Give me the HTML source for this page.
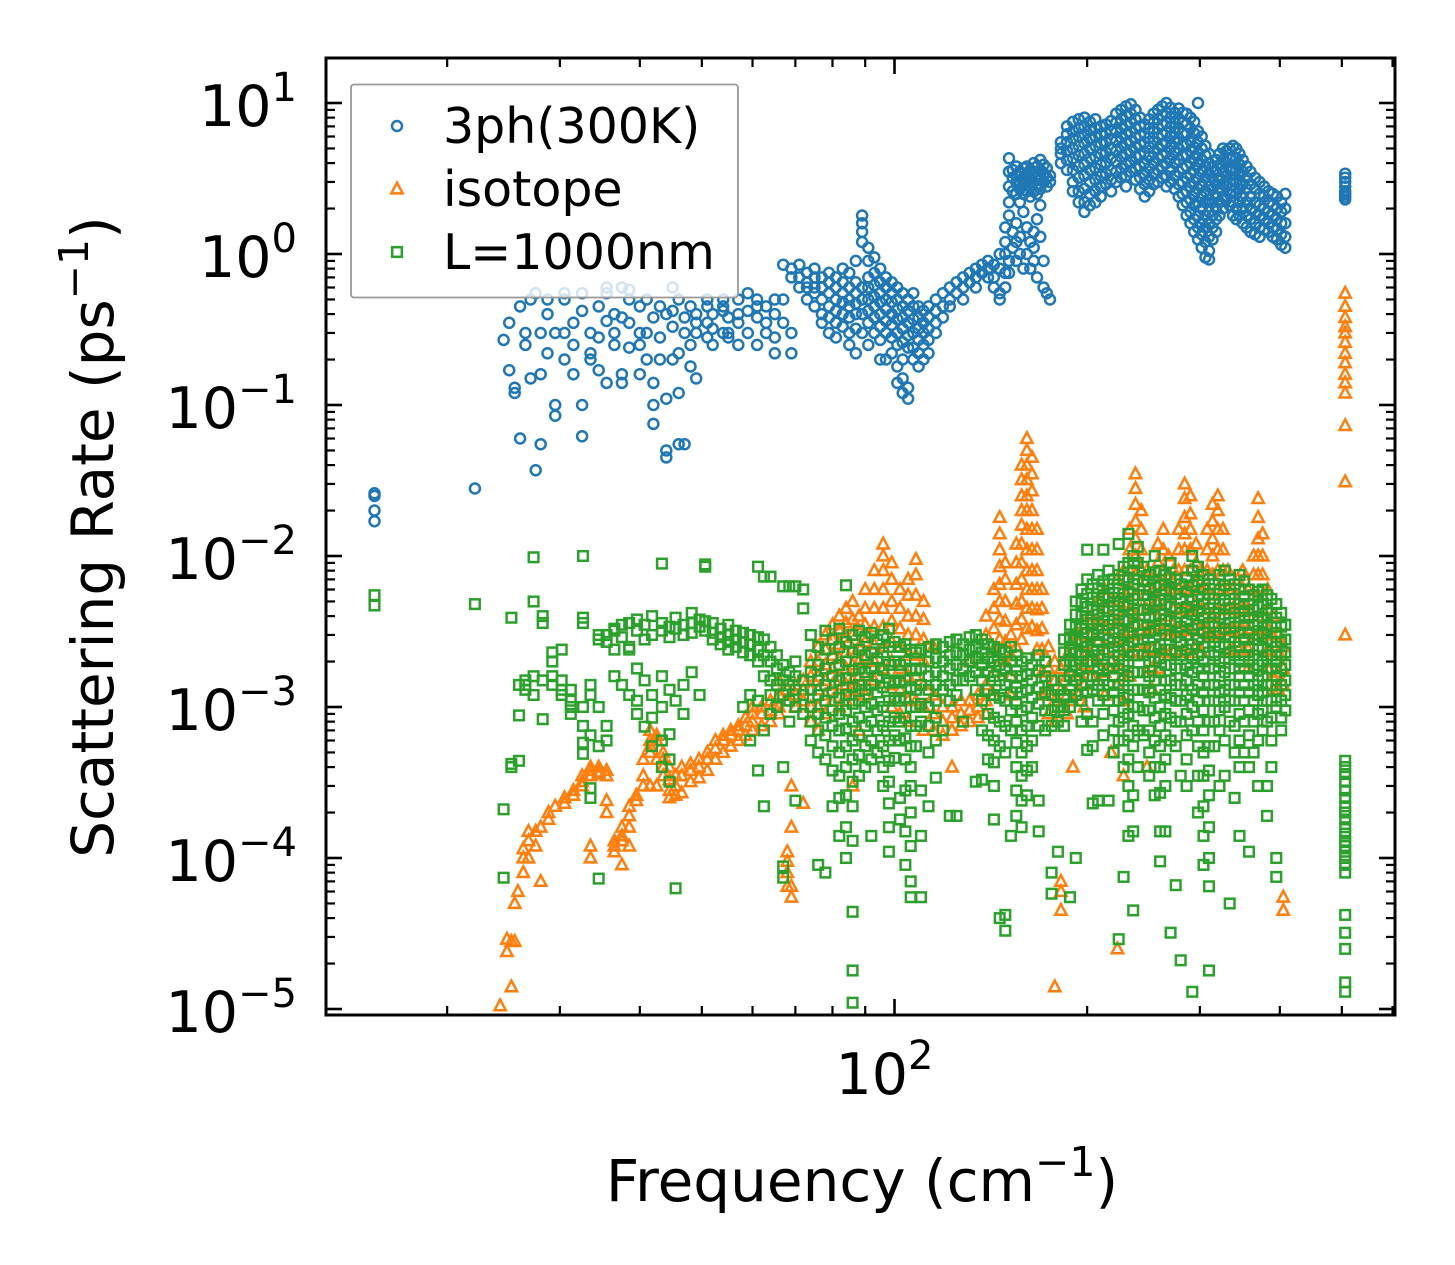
<!DOCTYPE html>
<html><head><meta charset="utf-8"><style>
html,body{margin:0;padding:0;background:#fff;}
svg{display:block;font-family:"DejaVu Sans","Liberation Sans",sans-serif;}
</style></head><body>
<svg id="chart" width="1455" height="1265" viewBox="0 0 1455 1265" xmlns="http://www.w3.org/2000/svg">
<rect x="0" y="0" width="1455" height="1265" fill="#fff"/>
<g id="marks"></g>
<g id="axes"></g>
</svg>
<script>
// ---- data: [frequency (cm^-1), [scattering rates (ps^-1)]] ----
const seriesNames = ["3ph(300K)", "isotope", "L=1000nm"];
const xTickLabels = ["10", "2"];
const yTickExps = ["1", "0", "−1", "−2", "−3", "−4", "−5"];

const blueCols = [
[15.4,[0.026,0.025,0.020,0.017]],[22.1,[0.028]],
[24.5,[0.27]],[25,[0.17,0.35]],[25.5,[0.13,0.12]],[26,[0.06,0.45]],[26.5,[0.25,0.3]],[27,[0.5,0.15]],[27.5,[0.037,0.55]],[28,[0.16,0.3,0.055]],[28.7,[0.4,0.22,0.5]],[29.5,[0.1,0.085,0.3]],[30.5,[0.55,0.2,0.5,0.3]],[31.5,[0.35,0.16,0.25]],[32.5,[0.42,0.1,0.062,0.55]],[33.5,[0.3,0.22,0.2]],[34.5,[0.45,0.17,0.28]],[35.5,[0.55,0.36,0.14,0.6]],[36.5,[0.25,0.4,0.3]],[37.5,[0.6,0.16,0.14,0.38]],[38.5,[0.24,0.5,0.35,0.58]],[40,[0.25,0.45,0.16,0.3]],[41,[0.2,0.3,0.5]],[42,[0.1,0.075,0.38,0.14]],[43,[0.28,0.45,0.2]],[44,[0.045,0.05,0.11,0.4]],[45,[0.2,0.33,0.42,0.6]],[46,[0.055,0.22,0.12,0.5]],[47,[0.3,0.38,0.055]],[48,[0.45,0.18,0.25]],[49,[0.4,0.3,0.35,0.15]],[51,[0.35,0.45,0.5,0.28]],[52,[0.25,0.4,0.32]],[54,[0.45,0.3,0.5,0.42]],[55,[0.28,0.38,0.3]],[57,[0.4,0.5,0.25,0.35]],[59,[0.42,0.55,0.3]],[61,[0.45,0.38,0.25,0.5]],[63,[0.35,0.3,0.45]],[65,[0.4,0.28,0.22,0.5]],[67,[0.85,0.5,0.35]],[69,[0.8,0.7,0.3,0.22]],[71,[0.85,0.7,0.6]],
[73,[0.75,0.6,0.5,0.65]],[75,[0.7,0.55,0.45,0.6,0.8]],[77,[0.6,0.5,0.4,0.7,0.35]],[79,[0.65,0.55,0.45,0.38,0.3,0.75]],[81,[0.7,0.6,0.5,0.42,0.35,0.28]],[83,[0.65,0.55,0.48,0.4,0.33,0.8]],[85,[0.75,0.6,0.5,0.45,0.38,0.3,0.25]],[87,[0.9,0.65,0.55,0.47,0.4,0.32,0.22]],[89,[1.8,1.6,1.4,1.2,0.6,0.5,0.4,0.3]],[91,[1.1,0.9,0.7,0.6,0.5,0.42,0.35,0.25]],[93,[0.95,0.75,0.62,0.52,0.45,0.38,0.3]],[95,[0.8,0.65,0.55,0.48,0.4,0.33,0.27,0.2]],[97,[0.7,0.6,0.5,0.43,0.36,0.3,0.2]],[99,[0.65,0.55,0.48,0.4,0.34,0.28,0.22]],[101,[0.6,0.5,0.43,0.37,0.3,0.25,0.18,0.14]],[103,[0.55,0.45,0.38,0.32,0.26,0.2,0.15,0.12]],[105,[0.5,0.42,0.35,0.29,0.24,0.11,0.13]],[107,[0.55,0.45,0.37,0.3,0.24,0.2]],[109,[0.45,0.38,0.32,0.27,0.22,0.18]],[111,[0.42,0.35,0.3,0.25,0.2]],[113,[0.45,0.38,0.32,0.27,0.22]],[116,[0.5,0.42,0.35,0.3]],[119,[0.55,0.45,0.38]],[122,[0.6,0.5,0.45]],[125,[0.65,0.55]],[128,[0.7,0.6,0.5]],[131,[0.75,0.65]],[134,[0.8,0.7,0.6]],[137,[0.85,0.75]],[140,[0.9,0.8,0.7]],[143,[0.85,0.7,0.6]],[146,[1.0,0.8,0.55,0.5]],
[149,[1.5,1.2,1.0,0.75,0.6]],[151,[4.3,3.5,2.8,2.2,1.8,0.9,0.75]],[153,[3.6,3.2,2.6,1.4,1.1]],[155,[3.8,3.3,3.0,2.5,1.6,1.2,0.9]],[157,[3.5,3.0,2.7,2.2,1.3,1.0]],[159,[3.7,3.2,2.9,2.5,1.9,0.8]],[161,[3.8,3.4,3.0,2.6,1.5,1.0]],[163,[3.6,3.2,2.8,2.4,1.2,0.8]],[165,[4.0,3.5,3.0,2.6,1.4,1.1,0.9]],[167,[3.8,3.3,2.9,2.5,1.7,0.7]],[169,[4.2,3.6,3.1,2.7,2.1,1.3]],[171,[3.9,3.4,3.0,0.9,0.6]],[173,[3.7,3.2,2.8,0.55]],[175,[3.3,3.0,0.5]],
[182,[5.5,5.0,4.6,4.0]],[186,[7.0,6.2,5.5,4.8,4.2,3.6]],[190,[7.5,6.5,5.8,5.0,4.3,3.6,3.0,2.6]],[194,[7.8,6.8,6.0,5.2,4.5,3.8,3.2,2.6,2.2]],[198,[8.0,7.0,6.2,5.4,4.6,3.9,3.3,2.7,2.2,1.9]],[202,[7.5,6.6,5.8,5.0,4.3,3.6,3.0,2.5,2.1]],[206,[7.8,6.8,6.0,5.2,4.4,3.7,3.1,2.6,2.2]],[210,[7.0,6.2,5.4,4.6,3.9,3.3,2.8,2.4]],[214,[7.2,6.3,5.5,4.7,4.0,3.4,2.9]],[218,[7.6,6.6,5.8,5.0,4.3,3.6,3.1,2.6]],[222,[8.5,7.4,6.4,5.6,4.8,4.1,3.5,3.0]],[226,[9.0,7.8,6.8,5.9,5.1,4.4,3.7,3.2]],[230,[9.5,8.2,7.1,6.2,5.4,4.6,3.9,3.3,2.8]],[234,[9.8,8.5,7.4,6.4,5.6,4.8,4.1,3.5]],[238,[9.0,7.8,6.8,5.9,5.1,4.4,3.7,3.1]],[242,[8.0,7.0,6.1,5.3,4.5,3.8,3.2,2.7]],[246,[7.2,6.3,5.5,4.7,4.0,3.4,2.9,2.4]],[250,[7.8,6.8,5.9,5.1,4.4,3.7,3.1,2.6]],[254,[8.5,7.4,6.4,5.5,4.7,4.0,3.4,2.9]],[258,[9.0,7.8,6.8,5.9,5.0,4.3,3.6,3.0]],[262,[9.5,8.3,7.2,6.2,5.3,4.5,3.8,3.2]],[266,[10,8.6,7.4,6.4,5.5,4.7,4.0,3.3,2.8]],[270,[9.3,8.0,6.9,6.0,5.1,4.3,3.6,3.0]],[274,[8.6,7.4,6.4,5.5,4.7,4.0,3.3,2.7]],[278,[9.2,7.9,6.8,5.8,5.0,4.2,3.5,2.9,2.4]],[282,[8.6,7.4,6.3,5.3,4.5,3.7,3.0,2.5,2.1]],[286,[8.5,7.2,6.2,5.3,4.5,3.8,3.2,2.6,2.2,1.8]],[290,[8.0,6.8,5.6,4.8,4.0,3.4,2.8,2.3,1.9,1.6]],[294,[7.5,6.3,5.1,4.3,3.6,3.0,2.5,2.1,1.7,1.4]],[298,[10,6.5,5.5,4.6,3.9,3.2,2.7,2.2,1.8,1.5,1.25]],[302,[6.0,5.0,4.2,3.5,2.9,2.4,2.0,1.6,1.35,1.1]],[306,[5.2,4.5,3.8,3.2,2.6,2.2,1.8,1.5,1.2,0.95]],[310,[4.6,4.0,3.4,2.8,2.3,1.9,1.6,1.3,1.05,0.92]],[314,[3.8,3.2,2.7,2.2,1.8,1.5,1.25]],[318,[4.2,3.5,2.9,2.4,2.0,1.7,1.4]],[322,[4.6,3.9,3.2,2.7,2.2,1.8]],[326,[5.0,4.2,3.5,2.9,2.4,2.0]],[330,[4.8,4.0,3.3,2.8,2.3]],[334,[5.0,4.3,3.6,3.0,2.5,2.1]],[338,[5.2,4.4,3.7,3.1,2.6,2.2,1.8]],[342,[5.0,4.3,3.6,3.0,2.5,2.0,1.7]],[346,[4.6,3.9,3.3,2.7,2.2,1.8]],[350,[4.2,3.5,2.9,2.4,2.0,1.6]],[355,[3.8,3.2,2.7,2.2,1.8,1.5]],[360,[3.5,2.9,2.4,2.0,1.7,1.4]],[366,[3.2,2.7,2.2,1.9,1.6,1.35]],[372,[3.0,2.5,2.1,1.8,1.5,1.3]],[378,[2.8,2.4,2.0,1.7,1.45]],[384,[2.6,2.2,1.9,1.6,1.4]],[390,[2.5,2.1,1.8,1.5,1.3]],[396,[2.4,2.0,1.7,1.45,1.25]],[402,[2.2,1.9,1.6,1.35,1.15]],[408,[2.5,2.0,1.6,1.3,1.1]],
[506,[3.4,3.2,3.0,2.8,2.6,2.5,2.4,2.3]]
];

const orangeCols = [
[24.2,[1.05e-5]],[24.8,[2.4e-5,2.9e-5]],[25.2,[1.4e-5,2.8e-5]],[25.5,[5e-5,2.8e-5]],[25.8,[6e-5]],[26.3,[1.0e-4,1.15e-4,8e-5]],[26.8,[1.3e-4,1.0e-4,1.5e-4]],[27.5,[1.5e-4,1.2e-4]],[28,[1.6e-4,7e-5]],[28.8,[1.8e-4,2e-4]],[29.5,[2.2e-4]],[30.5,[2.3e-4,2.5e-4]],[31.5,[2.8e-4,2.6e-4]],[32.5,[3.0e-4,3.2e-4,3.5e-4]],[33.5,[3.8e-4,4.0e-4,3.5e-4,1.2e-4,1.0e-4]],[34.5,[4.0e-4,3.7e-4,3.6e-4]],[35.5,[3.8e-4,3.5e-4,2.4e-4,2.0e-4]],[36.5,[1.2e-4,1.3e-4,1.1e-4]],[37.5,[9e-5,1.4e-4,1.3e-4,1.6e-4]],[38.5,[1.6e-4,1.9e-4,2.2e-4,1.2e-4]],[39.5,[2.4e-4,2.6e-4]],[40.5,[3.0e-4,3.5e-4,4.5e-4]],[41.5,[5e-4,5.5e-4,6e-4,7e-4,3e-4]],[42.5,[6.5e-4,6e-4,4.5e-4,3e-4]],[43.5,[5e-4,4.5e-4,4e-4,3.5e-4]],[44.5,[4e-4,3.3e-4,2.8e-4,2.5e-4]],[45.5,[3.5e-4,2.6e-4,3.0e-4]],[46.5,[4e-4,3.5e-4,2.7e-4]],[48,[4.2e-4,3.8e-4,3.2e-4]],[49.5,[4.5e-4,4e-4,3.4e-4]],[51,[5e-4,4.5e-4,3.8e-4]],[52.5,[6e-4,5.3e-4,4.5e-4]],[54,[6.5e-4,6e-4,5e-4]],[55.5,[7e-4,6.5e-4,5.5e-4]],[57,[7.5e-4,7e-4,6e-4]],[58.5,[8.5e-4,7.5e-4,6.5e-4]],[60,[9e-4,8e-4,7e-4,1.0e-3]],[62,[1.0e-3,9e-4,7.5e-4]],[64,[1.1e-3,9.5e-4,8e-4]],[66,[1.2e-3,1.0e-3,9e-4,1.5e-3]],[68,[1.3e-3,1.1e-3,9.5e-5,8e-5,1.1e-4,6.5e-5]],[69,[5.5e-5,6.5e-5,1.6e-4,3.0e-4]],[70,[1.4e-3,1.2e-3,1.0e-3]],[72,[1.5e-3,1.3e-3,1.1e-3,2.3e-4]],
[74,[2.0e-3,1.6e-3,1.3e-3,1.0e-3,8e-4]],[76,[2.5e-3,2.0e-3,1.6e-3,1.3e-3,1.0e-3,7e-4]],[78,[3.0e-3,2.4e-3,1.9e-3,1.5e-3,1.2e-3,9e-4]],[80,[3.5e-3,2.8e-3,2.2e-3,1.8e-3,1.4e-3,1.1e-3]],[82,[4.0e-3,3.2e-3,2.6e-3,2.1e-3,1.6e-3,1.3e-3,1.0e-3]],[84,[4.5e-3,3.6e-3,2.9e-3,2.3e-3,1.8e-3,1.4e-3,1.1e-3]],[86,[5e-3,3.8e-3,3.0e-3,2.4e-3,1.9e-3,1.5e-3,1.2e-3,3e-4]],[88,[4e-3,3.2e-3,2.5e-3,2.0e-3,1.6e-3,1.3e-3,7e-4]],[90,[6e-3,4.5e-3,3.5e-3,2.7e-3,2.1e-3,1.6e-3,1.2e-3]],
[93,[8e-3,6e-3,4.5e-3,3.4e-3,2.6e-3,2.0e-3,1.5e-3]],[96,[1.2e-2,1.0e-2,8e-3,6e-3,4.5e-3,3.4e-3,2.5e-3,1.8e-3]],[99,[9e-3,7e-3,5e-3,3.7e-3,2.7e-3,2.0e-3,1.4e-3,1.0e-3]],[102,[6e-3,4.5e-3,3.3e-3,2.5e-3,1.8e-3,1.3e-3,9e-4]],[105,[7e-3,5.5e-3,4e-3,3e-3,2.2e-3,1.6e-3,1.1e-3,8e-4]],[108,[9.5e-3,7.5e-3,5.5e-3,4e-3,3e-3,2.2e-3,1.6e-3,1.1e-3]],[111,[5e-3,3.8e-3,2.8e-3,2e-3,1.4e-3,1.0e-3,7e-4]],
[115,[1.2e-3,9e-4,7e-4,2.5e-3]],[119,[1.0e-3,8e-4,6.5e-4]],[123,[1.0e-3,8.5e-4,7e-4,4e-4]],[127,[1.1e-3,9e-4,7.5e-4]],[131,[1.1e-3,9.5e-4,8e-4,2e-3]],[135,[1.2e-3,1.0e-3,8.5e-4]],[139,[1.4e-3,1.1e-3,9e-4,3e-3,4e-3]],[143,[6e-3,4.5e-3,3.3e-3,2.4e-3,1.7e-3,1.2e-3]],[146,[1.8e-2,1.4e-2,1.1e-2,8.5e-3,6.5e-3,5e-3,3.8e-3,2.8e-3,2e-3]],[149,[9e-3,7e-3,5e-3,3.7e-3,2.7e-3,2e-3]],
[152,[3e-3,2.2e-3,1.6e-3,1.2e-3]],[155,[1.2e-2,9e-3,6.5e-3,4.8e-3,3.5e-3,2.5e-3]],[158,[4e-2,3.2e-2,2.5e-2,2e-2,1.6e-2,1.2e-2,9e-3,7e-3,5e-3,3.8e-3,2.8e-3]],[161,[6e-2,5e-2,4e-2,3.2e-2,2.5e-2,2e-2,1.5e-2,1.1e-2,8e-3,6e-3,4.5e-3,3.3e-3]],[164,[4.5e-2,3.5e-2,2.7e-2,2e-2,1.5e-2,1.1e-2,8e-3,6e-3,4.5e-3,3.4e-3]],[167,[1.5e-2,1.1e-2,8e-3,6e-3,4.4e-3,3.2e-3,2.4e-3]],[170,[6e-3,4.5e-3,3.3e-3,2.4e-3,1.7e-3,1.2e-3]],
[174,[2.5e-3,1.8e-3,1.3e-3,9e-4]],[178,[2e-3,1.5e-3,1.1e-3,8e-4,1.4e-5]],[182,[1.8e-3,1.3e-3,1e-3,7e-5,6e-5,4.5e-5]],[186,[2.2e-3,1.6e-3,1.2e-3,9e-4]],[190,[2.6e-3,2e-3,1.5e-3,1.1e-3,4e-4]],[194,[3e-3,2.3e-3,1.7e-3,1.2e-3]],[198,[3.5e-3,2.6e-3,1.9e-3,1.4e-3,1.0e-3]],
[203,[4e-3,3e-3,2.2e-3,1.6e-3]],[208,[5e-3,3.7e-3,2.7e-3,2e-3,1.5e-3]],[213,[6e-3,4.5e-3,3.3e-3,2.4e-3,1.7e-3,1.2e-3]],[218,[5e-3,3.8e-3,2.8e-3,2e-3,5e-4]],[223,[7e-3,5e-3,3.7e-3,2.7e-3,1.9e-3,1.4e-3,2.5e-5]],[228,[8e-3,6e-3,4.4e-3,3.2e-3,2.3e-3,1.6e-3,1.1e-3,3.5e-4]],[233,[1.5e-2,1.1e-2,8e-3,6e-3,4.4e-3,3.2e-3,2.3e-3,1.6e-3]],[238,[3.5e-2,2.8e-2,2.2e-2,1.7e-2,1.3e-2,1e-2,7.5e-3,5.5e-3,4e-3,3e-3,2.2e-3]],[243,[2e-2,1.5e-2,1.1e-2,8e-3,6e-3,4.4e-3,3.2e-3,2.3e-3]],[248,[8e-3,6e-3,4.4e-3,3.2e-3,2.3e-3,1.7e-3,4e-4]],[253,[6e-3,4.5e-3,3.3e-3,2.4e-3,1.8e-3,1.3e-3]],[258,[1.2e-2,9e-3,6.5e-3,4.8e-3,3.5e-3,2.5e-3,1.8e-3]],[263,[1.5e-2,1.1e-2,8e-3,6e-3,4.4e-3,3.2e-3,2.3e-3]],[268,[1e-2,7.5e-3,5.5e-3,4e-3,3e-3,2.2e-3]],[273,[8e-3,6e-3,4.4e-3,3.2e-3,2.3e-3]],[278,[1.5e-2,1.1e-2,8e-3,6e-3,4.4e-3,3.2e-3,2.3e-3]],[284,[3e-2,2.4e-2,1.8e-2,1.4e-2,1.1e-2,8e-3,6e-3,4.4e-3,3.2e-3,2.3e-3]],[290,[2.5e-2,1.9e-2,1.5e-2,1.1e-2,8e-3,6e-3,4.4e-3,3.2e-3]],[296,[1.2e-2,9e-3,6.5e-3,4.8e-3,3.5e-3,2.5e-3]],[302,[8e-3,6e-3,4.4e-3,3.2e-3,2.3e-3]],[308,[1.5e-2,1.1e-2,8e-3,6e-3,4.4e-3,3.2e-3]],[314,[2.2e-2,1.7e-2,1.3e-2,1e-2,7.5e-3,5.5e-3,4e-3,3e-3]],[320,[2.5e-2,2e-2,1.5e-2,1.1e-2,8e-3,6e-3,4.4e-3,3.2e-3]],[326,[1.5e-2,1.1e-2,8e-3,6e-3,4.4e-3,3.2e-3]],[332,[8e-3,6e-3,4.4e-3,3.2e-3,2.3e-3]],[338,[6e-3,4.5e-3,3.3e-3,2.4e-3]],[344,[7e-3,5e-3,3.7e-3,2.7e-3]],[350,[8e-3,6e-3,4.4e-3,3.2e-3,2.3e-3]],[357,[6e-3,4.5e-3,3.3e-3,2.4e-3,1.8e-3]],[364,[1e-2,7.5e-3,5.5e-3,4e-3,3e-3]],[370,[2.4e-2,1.8e-2,1.3e-2,1e-2,7.5e-3,5.5e-3,4e-3,3e-3]],[376,[1.4e-2,1e-2,7.5e-3,5.5e-3,4e-3,3e-3]],[383,[6e-3,4.5e-3,3.3e-3,2.4e-3,1.8e-3]],[390,[4e-3,3e-3,2.2e-3,1.6e-3,1.3e-3]],[398,[3e-3,2.3e-3,1.7e-3,1.3e-3]],[405,[2.5e-3,1.8e-3,1.4e-3,5.5e-5,4.5e-5]],
[506,[0.55,0.45,0.38,0.33,0.3,0.26,0.22,0.19,0.16,0.14,0.12,0.073,0.031,3e-3]]
];

const greenCols = [
[15.4,[5.5e-3,4.7e-3]],[22.1,[4.8e-3]],
[24.5,[7.4e-5,2.1e-4]],[25.2,[3.9e-3,4.2e-4,4.0e-4]],[25.9,[8.8e-4,1.4e-3,4.4e-4]],[26.5,[1.4e-3,1.5e-3,1.3e-3]],[27.3,[9.8e-3,5.0e-3,1.6e-3,1.2e-3]],[28.2,[4.0e-3,3.6e-3,1.5e-3,8.3e-4]],[29.2,[1.4e-3,2.3e-3,2.0e-3,1.6e-3]],[30.2,[1.5e-3,2.4e-3,1.3e-3,1.2e-3]],[31.2,[1.3e-3,1.1e-3,9e-4,1.0e-3]],[32.6,[1e-2,3.9e-3,3.6e-3,1.0e-3,7.5e-4,4.9e-4,5.8e-4]],[33.5,[1.4e-3,1.2e-3,6.5e-4,2.9e-4,2.5e-4]],[34.5,[2.8e-3,3.0e-3,7.3e-5,5.5e-4,1.0e-3]],[35.5,[3.0e-3,2.7e-3,7.5e-4,6e-4]],[36.5,[3.3e-3,2.4e-3,3.2e-3,1.6e-3]],[37.5,[3.5e-3,2.9e-3,1.4e-3]],[38.5,[3.6e-3,2.5e-3,1.2e-3,2.4e-3]],[39.6,[3.8e-3,3.2e-3,1.8e-3,1.1e-3,9e-4]],[40.7,[3.5e-3,2.8e-3,1.5e-3,7.4e-4]],[41.8,[4.0e-3,3.0e-3,1.2e-3,8.5e-4,5.5e-4]],[43.3,[8.9e-3,3.6e-3,3.2e-3,1.6e-3,1.0e-3,6e-4,4e-4]],[44.5,[3.4e-3,2.9e-3,1.3e-3,6.6e-4,4.5e-4,3.2e-4]],[45.5,[3.9e-3,3.3e-3,1.1e-3,6.3e-5]],[46.8,[3.5e-3,3.0e-3,1.4e-3,9e-4]],[48.2,[4.2e-3,3.6e-3,3.1e-3,1.7e-3]],[49.6,[3.8e-3,3.4e-3,1.2e-3]],[50.6,[8.5e-3,8.8e-3,3.7e-3,3.2e-3]],[52,[3.6e-3,3.1e-3,2.8e-3]],[53.5,[3.3e-3,2.9e-3,2.6e-3]],[55,[3.5e-3,3.0e-3,2.7e-3,2.4e-3]],[56.5,[3.2e-3,2.8e-3,2.5e-3]],[58,[3.1e-3,2.7e-3,2.3e-3,1.0e-3]],[59.5,[3.0e-3,2.6e-3,2.2e-3,1.2e-3,6e-4]],[61.2,[8.5e-3,2.9e-3,2.4e-3,2.0e-3,1.1e-3,3.8e-4]],[62.5,[7.3e-3,2.8e-3,2.2e-3,1.6e-3,2.2e-4,7e-4]],[64,[7.3e-3,2.5e-3,2.0e-3,1.5e-3,1.2e-3,9e-4]],[65.5,[2.2e-3,1.8e-3,1.4e-3,1.0e-3]],[67,[6.3e-3,1.9e-3,1.5e-3,1.2e-3,4.0e-4,7.4e-5,8.8e-5]],[68.5,[6.3e-3,1.7e-3,1.4e-3,1.1e-3,8e-4]],[70,[6.3e-3,2.0e-3,1.6e-3,1.3e-3,1.0e-3,2.4e-4]],[72,[6.0e-3,4.5e-3,1.5e-3,1.2e-3,9e-4]],
[74,[3.0e-3,2.2e-3,1.7e-3,1.3e-3,1.0e-3,8e-4,6e-4]],[76,[2.5e-3,1.9e-3,1.5e-3,1.2e-3,9e-4,7e-4,5e-4,9e-5]],[78,[3.2e-3,2.4e-3,1.8e-3,1.4e-3,1.1e-3,8.5e-4,6.5e-4,4.5e-4,8e-5]],[80,[2.8e-3,2.1e-3,1.6e-3,1.25e-3,9.5e-4,7.5e-4,5.5e-4,3.8e-4,2.2e-4]],[82,[3.3e-3,2.5e-3,1.9e-3,1.5e-3,1.15e-3,9e-4,7e-4,5e-4,3.5e-4,2.5e-4,1.4e-4]],[84,[6.4e-3,2.7e-3,2.0e-3,1.55e-3,1.2e-3,9.5e-4,7.2e-4,5.5e-4,4e-4,2.6e-4,1.6e-4,1.0e-4]],[86,[3.0e-3,2.3e-3,1.75e-3,1.35e-3,1.05e-3,8e-4,6e-4,4.5e-4,3.2e-4,2.2e-4,1.3e-4,4.4e-5,1.8e-5,1.1e-5]],[88,[3.2e-3,2.4e-3,1.8e-3,1.4e-3,1.1e-3,8.5e-4,6.5e-4,4.8e-4,3.5e-4]],[90,[2.9e-3,2.2e-3,1.7e-3,1.3e-3,1.0e-3,7.5e-4,5.5e-4,4e-4]],[92,[3.1e-3,2.3e-3,1.8e-3,1.4e-3,1.05e-3,8e-4,6e-4,4.5e-4,1.4e-4]],[94,[2.8e-3,2.1e-3,1.6e-3,1.25e-3,9.5e-4,7e-4,5e-4]],[96,[3.0e-3,2.3e-3,1.75e-3,1.35e-3,1.0e-3,7.5e-4,5.5e-4,4e-4,3e-4]],[98,[3.3e-3,2.5e-3,1.9e-3,1.45e-3,1.1e-3,8e-4,6e-4,4.4e-4,3.2e-4,2.3e-4,1.6e-4,1.1e-4]],[100,[2.7e-3,2.0e-3,1.5e-3,1.15e-3,8.5e-4,6.5e-4,4.6e-4]],[102,[2.5e-3,1.9e-3,1.45e-3,1.1e-3,8e-4,6e-4,2.5e-4,1.8e-4]],[104,[2.6e-3,2.0e-3,1.5e-3,1.15e-3,8.5e-4,6.2e-4,4.5e-4,2.8e-4,1.5e-4,9e-5]],[106,[2.4e-3,1.8e-3,1.35e-3,1.0e-3,7.5e-4,5.5e-4,4e-4,3e-4,2e-4,1.2e-4,7e-5,5.5e-5]],[108,[2.3e-3,1.75e-3,1.3e-3,1e-3,7.5e-4,5.5e-4]],[110,[2.4e-3,1.8e-3,1.4e-3,1.05e-3,8e-4,2.8e-4,1.4e-4,5.5e-5]],[113,[2.5e-3,2.0e-3,1.6e-3,1.3e-3,1.0e-3,7.5e-4,5e-4,2.2e-4]],[116,[2.6e-3,2.1e-3,1.7e-3,1.4e-3,1.1e-3,8.5e-4,6e-4,3.4e-4]],[119,[2.5e-3,2.0e-3,1.6e-3,1.3e-3,7e-4]],[122,[2.7e-3,2.2e-3,1.8e-3,1.4e-3,1.1e-3,1.9e-4]],[125,[2.8e-3,2.3e-3,1.9e-3,1.5e-3,1.2e-3,1.9e-4]],[128,[2.6e-3,2.2e-3,1.8e-3,1.5e-3,8e-4]],[131,[2.9e-3,2.4e-3,2.0e-3,1.6e-3]],[134,[3.0e-3,2.5e-3,2.1e-3,1.7e-3,1.3e-3,3.2e-4]],[137,[2.8e-3,2.3e-3,1.9e-3,1.5e-3,1.1e-3,7e-4,3.3e-4]],[140,[2.6e-3,2.1e-3,1.7e-3,1.3e-3,9e-4,6.5e-4,4.5e-4]],[143,[2.5e-3,2.0e-3,1.6e-3,1.2e-3,8.5e-4,6e-4,4.3e-4,3e-4,1.8e-4]],[146,[2.4e-3,1.9e-3,1.5e-3,1.15e-3,8e-4,5.5e-4,4e-5]],[149,[2.3e-3,1.8e-3,1.4e-3,1.1e-3,7.5e-4,5e-4,3.3e-5,4.2e-5]],[152,[2.5e-3,2.0e-3,1.6e-3,1.25e-3,9.5e-4,7e-4,1.4e-4]],[155,[2.2e-3,1.75e-3,1.35e-3,1.05e-3,8e-4,5.8e-4,4e-4,2.8e-4,1.9e-4]],[158,[2.0e-3,1.6e-3,1.25e-3,9.5e-4,7e-4,5e-4,3.5e-4,2.4e-4,1.6e-4]],[161,[2.1e-3,1.65e-3,1.3e-3,1.0e-3,7.5e-4,5.5e-4,3.8e-4,2.6e-4]],[164,[1.9e-3,1.5e-3,1.15e-3,8.5e-4,6e-4,4e-4]],[168,[2.2e-3,1.75e-3,1.35e-3,1.05e-3,7.5e-4,2.4e-4,1.5e-4]],[172,[2.0e-3,1.6e-3,1.25e-3,9.5e-4,7e-4]],[176,[1.5e-3,1.2e-3,9.5e-4,7.5e-4,5.8e-5,8e-5]],[180,[1.3e-3,1.0e-3,8e-4,1.1e-4]],[184,[2.8e-3,2.3e-3,1.9e-3,1.5e-3,1.2e-3,9.5e-4,7.5e-4]],
[188,[3.5e-3,2.9e-3,2.4e-3,2.0e-3,1.6e-3,1.3e-3,1.0e-3,5.5e-5]],[192,[5.0e-3,4.1e-3,3.4e-3,2.8e-3,2.3e-3,1.9e-3,1.5e-3,1.2e-3,1.0e-4]],[196,[6.0e-3,4.9e-3,4.0e-3,3.3e-3,2.7e-3,2.2e-3,1.8e-3,1.4e-3,1.1e-3,8e-4]],[200,[1.1e-2,7.0e-3,5.6e-3,4.6e-3,3.8e-3,3.1e-3,2.5e-3,2.0e-3,1.6e-3,1.25e-3,9e-4,5.2e-4]],[204,[6.5e-3,5.3e-3,4.4e-3,3.6e-3,3.0e-3,2.4e-3,2.0e-3,1.6e-3,1.3e-3,8e-4,5.5e-4,2.3e-4]],[208,[7.5e-3,6.1e-3,5.0e-3,4.1e-3,3.3e-3,2.7e-3,2.2e-3,1.8e-3,1.4e-3,1.1e-3,2.4e-4]],[212,[1.1e-2,6.8e-3,5.5e-3,4.5e-3,3.7e-3,3.0e-3,2.4e-3,1.9e-3,1.5e-3,1.2e-3,9e-4,6.5e-4]],[216,[8e-3,6.5e-3,5.3e-3,4.3e-3,3.5e-3,2.8e-3,2.3e-3,1.8e-3,1.4e-3,1.1e-3,2.4e-4]],[220,[7e-3,5.7e-3,4.7e-3,3.8e-3,3.1e-3,2.5e-3,2.0e-3,1.6e-3,1.25e-3,9.5e-4,7e-4,5e-4]],[224,[1.2e-2,7.5e-3,6.1e-3,5.0e-3,4.1e-3,3.3e-3,2.7e-3,2.2e-3,1.8e-3,1.4e-3,1.1e-3,8e-4,6e-4,2.9e-5]],[228,[8.5e-3,6.9e-3,5.6e-3,4.6e-3,3.7e-3,3.0e-3,2.4e-3,1.9e-3,1.5e-3,1.15e-3,8.5e-4,6e-4,4e-4,7.5e-5]],[232,[1.4e-2,9e-3,7.2e-3,5.8e-3,4.7e-3,3.8e-3,3.1e-3,2.5e-3,2.0e-3,1.6e-3,1.2e-3,9e-4,6.5e-4,4.5e-4,3e-4,2.2e-4,1.4e-4]],[236,[1.0e-2,8e-3,6.5e-3,5.2e-3,4.2e-3,3.4e-3,2.7e-3,2.2e-3,1.7e-3,1.3e-3,1e-3,7.5e-4,5.5e-4,2.6e-4,1.5e-4,4.5e-5]],[240,[1.15e-2,9e-3,7e-3,5.5e-3,4.4e-3,3.5e-3,2.8e-3,2.2e-3,1.7e-3,1.3e-3,1e-3,7e-4,4e-4]],[245,[8.5e-3,6.8e-3,5.5e-3,4.4e-3,3.5e-3,2.8e-3,2.2e-3,1.7e-3,1.3e-3,9.5e-4,6.5e-4]],[250,[7.5e-3,6e-3,4.8e-3,3.9e-3,3.1e-3,2.5e-3,2e-3,1.6e-3,1.25e-3,9.5e-4,7e-4,5e-4,3.5e-4]],[255,[1.0e-2,7.8e-3,6.2e-3,5e-3,4e-3,3.2e-3,2.5e-3,2e-3,1.5e-3,1.15e-3,8.5e-4,6e-4,4e-4,2.6e-4]],[260,[8e-3,6.4e-3,5.1e-3,4.1e-3,3.3e-3,2.6e-3,2.1e-3,1.7e-3,1.3e-3,1e-3,7.5e-4,5.5e-4,4e-4,2.7e-4,1.5e-4,9.5e-5]],[265,[7.5e-3,6e-3,4.8e-3,3.8e-3,3e-3,2.4e-3,1.9e-3,1.5e-3,1.2e-3,9e-4,6.5e-4,4.5e-4,3e-4,1.5e-4]],[270,[9e-3,7.2e-3,5.8e-3,4.6e-3,3.7e-3,3e-3,2.4e-3,1.9e-3,1.5e-3,1.15e-3,8.5e-4,6e-4,3.2e-5]],[275,[7e-3,5.6e-3,4.5e-3,3.6e-3,2.9e-3,2.3e-3,1.8e-3,1.4e-3,1.1e-3,8e-4,5.5e-4,6.6e-5]],[280,[6.5e-3,5.2e-3,4.2e-3,3.4e-3,2.7e-3,2.2e-3,1.8e-3,1.4e-3,1.1e-3,8e-4,3.5e-4,2.1e-5]],[286,[7.2e-3,5.8e-3,4.6e-3,3.7e-3,3e-3,2.4e-3,1.9e-3,1.5e-3,1.2e-3,9e-4,6.5e-4,4.5e-4,3e-4]],[292,[1.0e-2,8e-3,6.4e-3,5.1e-3,4.1e-3,3.3e-3,2.6e-3,2.1e-3,1.7e-3,1.3e-3,1e-3,7e-4,1.3e-5]],[298,[8.5e-3,6.8e-3,5.4e-3,4.3e-3,3.5e-3,2.8e-3,2.2e-3,1.8e-3,1.4e-3,1.1e-3,8e-4,5.5e-4,3.5e-4,2e-4]],[304,[7.5e-3,6e-3,4.8e-3,3.9e-3,3.1e-3,2.5e-3,2e-3,1.6e-3,1.25e-3,9.5e-4,7e-4,5e-4,3.5e-4,2.2e-4,1.4e-4,9e-5]],[310,[7e-3,5.6e-3,4.5e-3,3.6e-3,2.9e-3,2.3e-3,1.8e-3,1.4e-3,1.1e-3,8e-4,5.5e-4,3.8e-4,2.6e-4,1.6e-4,1.0e-4,6.5e-5,1.8e-5]],[316,[6.5e-3,5.2e-3,4.2e-3,3.4e-3,2.7e-3,2.2e-3,1.8e-3,1.4e-3,1.1e-3,8e-4,5.5e-4]],[322,[7.5e-3,6e-3,4.8e-3,3.9e-3,3.1e-3,2.5e-3,2e-3,1.6e-3,1.25e-3,9.5e-4,7e-4,3e-4]],[328,[8e-3,6.4e-3,5.1e-3,4.1e-3,3.3e-3,2.6e-3,2.1e-3,1.7e-3,1.3e-3,1e-3,6e-4,3.5e-4]],[334,[7e-3,5.6e-3,4.5e-3,3.6e-3,2.9e-3,2.3e-3,1.8e-3,1.4e-3,1.1e-3,8e-4,5e-5]],[340,[6.5e-3,5.2e-3,4.2e-3,3.4e-3,2.7e-3,2.2e-3,1.8e-3,1.4e-3,1.1e-3,7.5e-4,5e-4,2.5e-4]],[346,[7.5e-3,6e-3,4.8e-3,3.9e-3,3.1e-3,2.5e-3,2e-3,1.6e-3,1.25e-3,9e-4,6e-4,4e-4,1.4e-4]],[352,[6.8e-3,5.4e-3,4.3e-3,3.5e-3,2.8e-3,2.2e-3,1.8e-3,1.4e-3,1.1e-3,8e-4,5e-4]],[358,[6e-3,4.8e-3,3.9e-3,3.1e-3,2.5e-3,2e-3,1.6e-3,1.25e-3,9.5e-4,6.5e-4,4e-4,1.1e-4]],[364,[5.5e-3,4.4e-3,3.5e-3,2.8e-3,2.2e-3,1.8e-3,1.4e-3,1.1e-3,8e-4,5e-4]],[370,[5.8e-3,4.6e-3,3.7e-3,3e-3,2.4e-3,1.9e-3,1.5e-3,1.2e-3,9e-4,6e-4,3e-4]],[376,[6e-3,4.8e-3,3.9e-3,3.1e-3,2.5e-3,2e-3,1.6e-3,1.25e-3,9.5e-4,7e-4]],[382,[5.5e-3,4.4e-3,3.5e-3,2.8e-3,2.2e-3,1.8e-3,1.4e-3,1.1e-3,8e-4,3e-4,1.9e-4]],[388,[5.2e-3,4.2e-3,3.4e-3,2.7e-3,2.2e-3,1.8e-3,1.4e-3,1.1e-3,8.5e-4,6e-4,4e-4]],[395,[4.8e-3,3.9e-3,3.1e-3,2.5e-3,2e-3,1.6e-3,1.3e-3,1.0e-3,7.5e-5,1.0e-4]],[402,[4.2e-3,3.4e-3,2.7e-3,2.2e-3,1.8e-3,1.4e-3,1.1e-3,8.5e-4,7e-4]],[408,[3.5e-3,2.8e-3,2.3e-3,1.9e-3,1.5e-3,1.2e-3,9.5e-4]],
[506,[4.4e-4,4.0e-4,3.6e-4,3.2e-4,2.8e-4,2.5e-4,2.2e-4,2.0e-4,1.8e-4,1.6e-4,1.45e-4,1.3e-4,1.2e-4,1.1e-4,1.0e-4,9e-5,8e-5,4.2e-5,3.2e-5,2.5e-5,1.5e-5,1.3e-5]]
];

// ---- axes ----
const PL = 326, PR = 1395, PT = 58, PB = 1015;
const X0PX = 894.5, XDEC = 640;
const Y0PX = 254, YDEC = 151;
function xs(f){ return X0PX + (Math.log10(f) - 2) * XDEC; }
function ys(r){ return Y0PX - Math.log10(r) * YDEC; }

const NS = "http://www.w3.org/2000/svg";
function mk(tag, attrs, parent){
  const e = document.createElementNS(NS, tag);
  for (const k in attrs) e.setAttribute(k, attrs[k]);
  parent.appendChild(e);
  return e;
}
const marks = document.getElementById('marks');
const axes = document.getElementById('axes');

const clip = mk('clipPath', {id:'plotclip'}, marks);
mk('rect', {x:PL, y:PT, width:PR-PL, height:PB-PT}, clip);
const plotG = mk('g', {'clip-path':'url(#plotclip)'}, marks);

const SW = 2.5;
function circleMark(g, x, y, c){ return mk('circle', {cx:x.toFixed(1), cy:y.toFixed(1), r:5, fill:'none', stroke:c, 'stroke-width':SW}, g); }
function triMark(g, x, y, c){
  const h = 6.3;
  return mk('polygon', {points:`${x.toFixed(1)},${(y-h).toFixed(1)} ${(x-h*0.9).toFixed(1)},${(y+h*0.7).toFixed(1)} ${(x+h*0.9).toFixed(1)},${(y+h*0.7).toFixed(1)}`, fill:'none', stroke:c, 'stroke-width':SW, 'stroke-linejoin':'miter'}, g);
}
function sqMark(g, x, y, c){ return mk('rect', {x:(x-4.8).toFixed(1), y:(y-4.8).toFixed(1), width:9.6, height:9.6, fill:'none', stroke:c, 'stroke-width':SW}, g); }

const series = [
  {cols: blueCols, color:'#1f77b4', fn: circleMark, name:'series-3ph'},
  {cols: orangeCols, color:'#ff7f0e', fn: triMark, name:'series-isotope'},
  {cols: greenCols, color:'#2ca02c', fn: sqMark, name:'series-boundary'}
];
series.forEach(s => {
  const g = mk('g', {}, plotG);
  
  
  s.cols.forEach(col => {
    col[1].forEach(r => {
      const m = s.fn(g, xs(col[0]), ys(r), s.color);
      
      
    });
  });
});

// legend
const lg = mk('g', {}, marks);


mk('rect', {x:351, y:84.5, width:387, height:213, rx:3, fill:'rgba(255,255,255,0.8)', stroke:'#999', 'stroke-width':1.8}, lg);
const legY = [126, 189, 252];
series.forEach((s, i) => {
  const m = s.fn(lg, 397, legY[i], s.color);
  
  
  const t = mk('text', {x:443, y:legY[i]+17, 'font-size':49, fill:'#000'}, lg);
  t.textContent = seriesNames[i];
  
  
});

// frame
const frame = mk('rect', {x:PL, y:PT, width:PR-PL, height:PB-PT, fill:'none', stroke:'#000', 'stroke-width':3}, axes);



// x ticks
const xMinor = [20,30,40,50,60,70,80,90,200,300,400,500,600];
xMinor.forEach(v => {
  const x = xs(v);
  mk('line', {x1:x, x2:x, y1:PB, y2:PB-9, stroke:'#000', 'stroke-width':2.2}, axes);
  mk('line', {x1:x, x2:x, y1:PT, y2:PT+9, stroke:'#000', 'stroke-width':2.2}, axes);
});
[100].forEach(v => {
  const x = xs(v);
  mk('line', {x1:x, x2:x, y1:PB, y2:PB-16, stroke:'#000', 'stroke-width':2.6}, axes);
  mk('line', {x1:x, x2:x, y1:PT, y2:PT+16, stroke:'#000', 'stroke-width':2.6}, axes);
  const t = mk('text', {x:x-10, y:1094, 'font-size':57, 'text-anchor':'middle'}, axes);
  
  
  const a = mk('tspan', {}, t); a.textContent = xTickLabels[0];
  const b = mk('tspan', {dy:-25, 'font-size':40}, t); b.textContent = xTickLabels[1];
});

// y ticks
for (let e = 1; e >= -5; e--) {
  const y = ys(Math.pow(10, e));
  mk('line', {x1:PL, x2:PL+16, y1:y, y2:y, stroke:'#000', 'stroke-width':2.6}, axes);
  mk('line', {x1:PR, x2:PR-16, y1:y, y2:y, stroke:'#000', 'stroke-width':2.6}, axes);
  const t = mk('text', {x:297, y:y+23, 'font-size':57, 'text-anchor':'end'}, axes);
  
  
  const a = mk('tspan', {}, t); a.textContent = '10';
  const b = mk('tspan', {dy:-25, 'font-size':40}, t); b.textContent = yTickExps[1 - e];
  for (let k = 2; k <= 9; k++) {
    const yy = ys(k * Math.pow(10, e));
    if (yy < PT || yy > PB) continue;
    mk('line', {x1:PL, x2:PL+9, y1:yy, y2:yy, stroke:'#000', 'stroke-width':2.2}, axes);
    mk('line', {x1:PR, x2:PR-9, y1:yy, y2:yy, stroke:'#000', 'stroke-width':2.2}, axes);
  }
}
{
  const yy = ys(9e-6);
  if (yy <= PB) {
    mk('line', {x1:PL, x2:PL+9, y1:yy, y2:yy, stroke:'#000', 'stroke-width':2.2}, axes);
    mk('line', {x1:PR, x2:PR-9, y1:yy, y2:yy, stroke:'#000', 'stroke-width':2.2}, axes);
  }
}

// axis titles
const xt = mk('text', {x:862, y:1201, 'font-size':58, 'text-anchor':'middle'}, axes);


mk('tspan', {}, xt).textContent = 'Frequency (cm';
mk('tspan', {dy:-25, 'font-size':41}, xt).textContent = '−1';
mk('tspan', {dy:25}, xt).textContent = ')';

const yt = mk('text', {x:0, y:0, 'font-size':58, 'text-anchor':'middle', transform:'translate(113,537) rotate(-90)'}, axes);


mk('tspan', {}, yt).textContent = 'Scattering Rate (ps';
mk('tspan', {dy:-25, 'font-size':41}, yt).textContent = '−1';
mk('tspan', {dy:25}, yt).textContent = ')';
</script>
</body></html>
